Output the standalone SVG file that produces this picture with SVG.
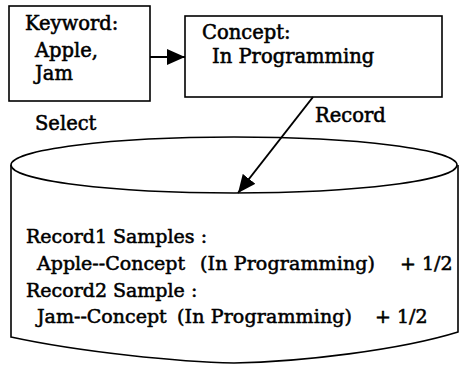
<svg xmlns="http://www.w3.org/2000/svg" width="461" height="365" viewBox="0 0 461 365">
<defs>
<marker id="ah" viewBox="0 0 18 16" refX="18" refY="8" markerWidth="18" markerHeight="16" orient="auto" markerUnits="userSpaceOnUse">
<path d="M0,0L18,8L0,16z" fill="#000"/>
</marker>
</defs>
<g id="db" font-family="DejaVu Serif" font-size="19" fill="#000" stroke="#000" stroke-width="0.55">
<path fill="#fff" stroke-width="1.6" d="M11,165 L11,337 C80,352 180,362 234,363 C300,362 400,350 458,332 L458,165"/>
<ellipse fill="#fff" stroke-width="1.6" cx="234" cy="165" rx="223" ry="28"/>
<text x="26" y="243">Record1 Samples :</text>
<text x="37" y="270">Apple--Concept<tspan x="200" textLength="175" lengthAdjust="spacing">(In Programming)</tspan><tspan x="400">+ 1/2</tspan></text>
<text x="26" y="297">Record2 Sample :</text>
<text x="37" y="323">Jam--Concept<tspan x="177" textLength="175" lengthAdjust="spacing">(In Programming)</tspan><tspan x="375">+ 1/2</tspan></text>
</g>
<g id="keyword" font-family="DejaVu Serif" font-size="19.5" fill="#000" stroke="#000" stroke-width="0.55">
<rect fill="#fff" stroke-width="1.6" x="9" y="6" width="141" height="95"/>
<text x="25" y="30">Keyword:</text>
<text x="35" y="57">Apple,</text>
<text x="35" y="80">Jam</text>
</g>
<g id="concept" font-family="DejaVu Serif" font-size="19.5" fill="#000" stroke="#000" stroke-width="0.55">
<rect fill="#fff" stroke-width="1.6" x="185" y="16" width="257" height="81"/>
<text x="202" y="39">Concept:</text>
<text x="212" y="63">In Programming</text>
</g>
<g id="connectors" stroke="#000" stroke-width="2" fill="none">
<line x1="150" y1="57" x2="185" y2="57" marker-end="url(#ah)"/>
<line x1="313" y1="97" x2="238" y2="193" marker-end="url(#ah)"/>
</g>
<g id="labels" font-family="DejaVu Serif" font-size="19.5" fill="#000" stroke="#000" stroke-width="0.55">
<text x="35" y="130">Select</text>
<text x="315" y="122">Record</text>
</g>
</svg>
